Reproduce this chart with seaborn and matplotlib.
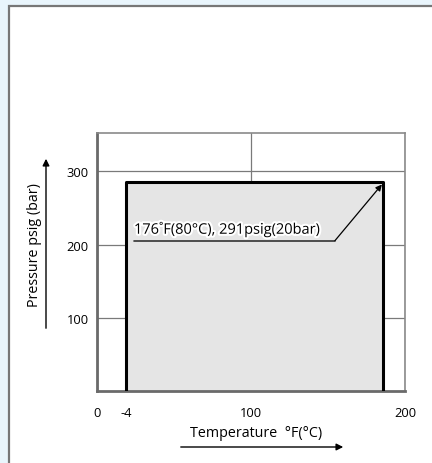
import matplotlib
matplotlib.use('Agg')
import matplotlib.pyplot as plt
import matplotlib.patheffects as pe
from matplotlib.patches import Rectangle, FancyArrowPatch
import seaborn as sns

# data
temp_ticks = [0, 19, 100, 200]
temp_labels = ['0', '-4', '100', '200']
pressure_ticks = [100, 200, 300]
range_temp = [19, 19, 186, 186]
range_pressure = [0, 285, 285, 0]
note_text = '176\u02daF(80°C), 291psig(20bar)'
note_line_x = [24, 154.5]
note_line_y = [205.5, 205.5]
note_tip = (185, 282)

sns.set_theme(style='white')
plt.rcParams['font.family'] = ['Open Sans', 'DejaVu Sans']
plt.rcParams['text.color'] = 'black'

fig = plt.figure(figsize=(4.32, 4.64), dpi=100, facecolor='#e9f5fc')
# white panel with grey frame
fig.patches.append(Rectangle((8.5 / 432, -0.01), 1.0, 1 - 7.0 / 464 + 0.01,
                             transform=fig.transFigure, facecolor='white',
                             edgecolor='#777777', linewidth=1.6, zorder=-5))

ax = fig.add_axes([97 / 432, (464 - 392) / 464, (405 - 97) / 432, (392 - 134) / 464])
ax.set_facecolor('white')

ax.fill_between(range_temp[1:3], range_pressure[1:3], 0, color='#e5e5e5', zorder=1)
sns.lineplot(x=range_temp, y=range_pressure, sort=False, estimator=None,
             color='black', linewidth=2.2, ax=ax, zorder=3)

ax.set_xlim(0, 200)
ax.set_ylim(1, 352)
ax.set_xticks(temp_ticks)
ax.set_xticklabels(temp_labels)
ax.set_yticks(pressure_ticks)
ax.tick_params(labelsize=9.3, length=0, pad=11, colors='black')
ax.tick_params(axis='y', pad=6)

ax.grid(True, color='#7a7a7a', linewidth=0.9)
for l in ax.get_xgridlines() + ax.get_ygridlines():
    l.set_zorder(2)
ax.get_xgridlines()[1].set_visible(False)

for side in ['left', 'bottom']:
    ax.spines[side].set_color('#6a6a6a')
    ax.spines[side].set_linewidth(2.0)
for side in ['top', 'right']:
    ax.spines[side].set_color('#8a8a8a')
    ax.spines[side].set_linewidth(1.2)
ax.set_xlabel('')
ax.set_ylabel('')

# annotation
ax.plot(note_line_x, note_line_y, color='#333333', linewidth=1.2, zorder=4)
ax.annotate('', xy=note_tip, xytext=(note_line_x[1], note_line_y[1]),
            arrowprops=dict(arrowstyle='-|>', color='black', lw=0.9,
                            mutation_scale=9, shrinkA=0, shrinkB=0), zorder=4)
ax.text(note_line_x[0], note_line_y[0] + 4, note_text, fontsize=10.5,
        ha='left', va='bottom', color='black', zorder=5,
        path_effects=[pe.withStroke(linewidth=3, foreground='white')])

# axis titles with arrows
fig.text(34 / 432, 1 - 245 / 464, 'Pressure psig (bar)', rotation=90,
         ha='center', va='center', fontsize=10.3, color='black')
fig.patches.append(FancyArrowPatch(
    (46 / 432, 1 - 332 / 464), (46 / 432, 1 - 157 / 464),
    transform=fig.transFigure, arrowstyle='-|>', mutation_scale=10,
    color='black', lw=1.0))
fig.text(256 / 432, 1 - 434 / 464, 'Temperature  °F(°C)',
         ha='center', va='center', fontsize=10.3, color='black')
fig.patches.append(FancyArrowPatch(
    (178 / 432, 1 - 448 / 464), (346 / 432, 1 - 448 / 464),
    transform=fig.transFigure, arrowstyle='-|>', mutation_scale=10,
    color='black', lw=1.0))

fig.savefig('out.png', dpi=100, facecolor=fig.get_facecolor())
